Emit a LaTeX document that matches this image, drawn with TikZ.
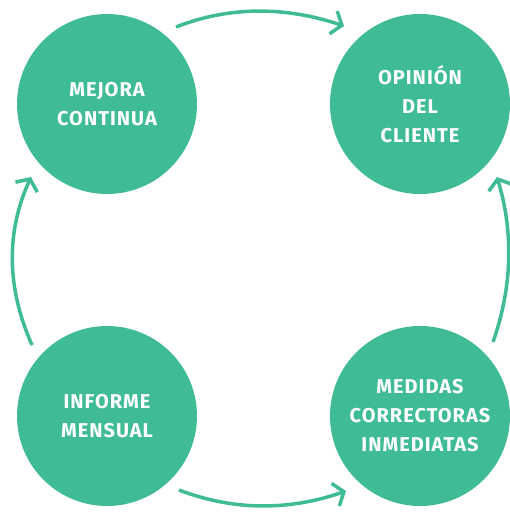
\documentclass[tikz,border=0pt]{standalone}
\usepackage{fontspec}
\setmainfont{Fira Sans}
\newfontfamily\lblfont[LetterSpace=5]{Fira Sans}
\usetikzlibrary{arrows.meta}
\definecolor{grn}{HTML}{3FBC95}
\tikzset{
  circ/.style={circle, fill=grn, minimum size=180pt, inner sep=0pt, text=white,
    font=\lblfont\fontsize{20}{29}\selectfont\bfseries, align=center},
  flow/.style={draw=grn, line width=3.5pt, -{Straight Barb[length=9pt,width=24pt,line width=3.5pt]}}
}
\begin{document}
\begin{tikzpicture}[x=1pt,y=-1pt]
\useasboundingbox (0,0) rectangle (510,512);
\node[circ] (mej) at (107,104) {MEJORA\\CONTINUA};
\node[circ] (opi) at (420,104) {OPINIÓN\\DEL\\CLIENTE};
\node[circ] (inf) at (107,416) {INFORME\\MENSUAL};
\node[circ] (med) at (420,416) {MEDIDAS\\CORRECTORAS\\INMEDIATAS};
\coordinate (a1) at (176,27);
\coordinate (a2) at (344,26);
\coordinate (b1) at (179,490);
\coordinate (b2) at (346,491);
\coordinate (c1) at (32,345);
\coordinate (c2) at (31,177);
\coordinate (d1) at (493,342);
\coordinate (d2) at (497,177);
\draw[flow] (a1) .. controls (228.7,6.3) and (284.7,6) .. (a2);
\draw[flow] (b1) .. controls (233,510.7) and (288.7,511) .. (b2);
\draw[flow] (c1) .. controls (6.7,288.3) and (5.7,232.3) .. (c2);
\draw[flow] (d1) .. controls (512.3,287.3) and (513.7,232.3) .. (d2);
\end{tikzpicture}
\end{document}
